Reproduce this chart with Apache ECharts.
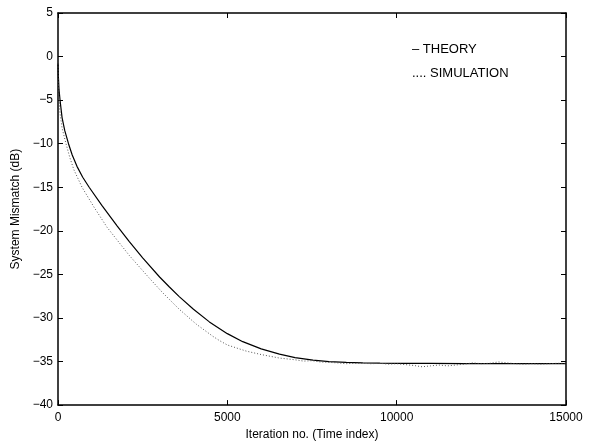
<!DOCTYPE html>
<html>
<head>
<meta charset="utf-8">
<script src="https://cdn.jsdelivr.net/npm/echarts@6/dist/echarts.min.js"></script>
<style>
  html, body { margin: 0; padding: 0; background: #fff; }
  #chart { width: 597px; height: 446px; }
</style>
</head>
<body>
<div id="chart"></div>
<script>
// iteration index / mismatch in dB
const theoryX = [0, 10, 30, 60, 120, 200, 310, 420, 560, 730, 920, 1300, 1750, 2100, 2500, 3000, 3290, 3580, 4000, 4470, 5000, 5455, 6000, 6540, 7000, 7530, 8000, 8515, 9000, 9500, 10000, 11000, 12000, 13000, 14000, 15000]
const theoryY = [-0.8, -2.2, -3.8, -5, -7, -8.5, -10, -11.3, -12.6, -13.85, -15.0, -17.1, -19.45, -21.2, -23.1, -25.3, -26.45, -27.55, -29.0, -30.45, -31.8, -32.72, -33.55, -34.15, -34.55, -34.84, -35.0, -35.1, -35.15, -35.18, -35.2, -35.22, -35.24, -35.25, -35.25, -35.25]

const simX = [0, 10, 30, 60, 120, 236, 350, 470, 710, 1050, 1450, 2100, 2690, 3090, 3580, 4080, 4570, 4770, 5000, 5555, 6000, 6540, 7000, 7250, 7500, 7750, 8000, 8250, 8500, 8750, 9000, 9250, 9500, 9750, 10000, 10250, 10500, 10750, 11000, 11250, 11500, 11750, 12000, 12250, 12500, 12750, 13000, 13250, 13500, 13750, 14000, 14250, 14500, 14750, 15000]
const simY = [-0.8, -2.8, -4.8, -6.5, -8.2, -10, -11.6, -13, -15, -17.2, -19.6, -22.8, -25.4, -27.1, -29.0, -30.7, -32.1, -32.6, -33.1, -33.8, -34.2, -34.6, -34.8, -34.95, -34.9, -35.05, -35.1, -35.15, -35.25, -35.2, -35.2, -35.25, -35.2, -35.3, -35.25, -35.35, -35.45, -35.6, -35.5, -35.4, -35.5, -35.4, -35.3, -35.15, -35.25, -35.2, -35.05, -35.15, -35.25, -35.3, -35.25, -35.3, -35.25, -35.2, -35.2]

const xTicks = [0, 15000, 5000]   // min, max, step
const yTicks = [-40, 5, 5]

const font = 'Arial, "Liberation Sans", Helvetica, sans-serif'
const minus = (v) => String(v).replace('-', '\u2212')

const chart = echarts.init(document.getElementById('chart'))

const axisLine = { show: true, onZero: false, lineStyle: { color: '#000', width: 1.5 } }
const axisTick = { show: true, inside: true, length: 5, lineStyle: { color: '#000', width: 1 } }

const option = {
  animation: false,
  backgroundColor: '#fff',
  grid: { left: 58, right: 31, top: 13, bottom: 33, containLabel: false },
  legend: {
    orient: 'vertical',
    left: 402,
    top: 37,
    icon: 'none',
    itemWidth: 0,
    itemGap: 10,
    itemHeight: 15,
    textStyle: { fontFamily: font, fontSize: 13, color: '#000' },
    formatter: (name) => (name === 'THEORY' ? '\u2013 THEORY' : '.... SIMULATION'),
    data: ['THEORY', 'SIMULATION'],
  },
  xAxis: [
    {
      type: 'value',
      min: xTicks[0],
      max: xTicks[1],
      interval: xTicks[2],
      name: 'Iteration no. (Time index)',
      nameLocation: 'middle',
      nameGap: 17,
      nameTextStyle: { fontFamily: font, fontSize: 12, color: '#000' },
      axisLine,
      axisTick,
      splitLine: { show: false },
      axisLabel: { fontFamily: font, fontSize: 12, color: '#000', margin: 7, formatter: (v) => String(v) },
    },
    {
      type: 'value',
      position: 'top',
      min: xTicks[0],
      max: xTicks[1],
      interval: xTicks[2],
      axisLine,
      axisTick,
      splitLine: { show: false },
      axisLabel: { show: false },
    },
  ],
  yAxis: [
    {
      type: 'value',
      min: yTicks[0],
      max: yTicks[1],
      interval: yTicks[2],
      name: 'System Mismatch (dB)',
      nameLocation: 'middle',
      nameGap: 26,
      nameRotate: 90,
      nameTextStyle: { fontFamily: font, fontSize: 12, color: '#000' },
      axisLine,
      axisTick,
      splitLine: { show: false },
      axisLabel: { fontFamily: font, fontSize: 12, color: '#000', margin: 5, formatter: minus },
    },
    {
      type: 'value',
      position: 'right',
      min: yTicks[0],
      max: yTicks[1],
      interval: yTicks[2],
      axisLine,
      axisTick,
      splitLine: { show: false },
      axisLabel: { show: false },
    },
  ],
  series: [
    {
      name: 'THEORY',
      type: 'line',
      data: theoryX.map((x, i) => [x, theoryY[i]]),
      showSymbol: false,
      lineStyle: { color: '#000', width: 1.2 },
      itemStyle: { color: '#000' },
    },
    {
      name: 'SIMULATION',
      type: 'line',
      data: simX.map((x, i) => [x, simY[i]]),
      showSymbol: false,
      lineStyle: { color: '#555', width: 1, type: [1, 2] },
      itemStyle: { color: '#555' },
    },
  ],
}

chart.setOption(option)
</script>
</body>
</html>
